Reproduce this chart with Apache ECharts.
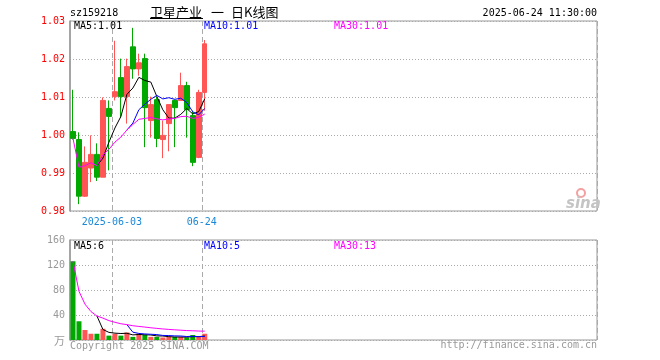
<!DOCTYPE html>
<html>
<head>
<meta charset="utf-8">
<script src="https://cdn.jsdelivr.net/npm/echarts@6/dist/echarts.min.js"></script>
<style>
html,body{margin:0;padding:0;background:#fff;}
#c{width:660px;height:360px;}
</style>
</head>
<body>
<div id="c"></div>
<script>
// ---- data ----
const dates = ['2025-05-22','2025-05-23','2025-05-26','2025-05-27','2025-05-28','2025-05-29','2025-05-30',
  '2025-06-03','2025-06-04','2025-06-05','2025-06-06','2025-06-09','2025-06-10','2025-06-11','2025-06-12',
  '2025-06-13','2025-06-16','2025-06-17','2025-06-18','2025-06-19','2025-06-20','2025-06-23','2025-06-24'];
const openP  = [1.0009,0.9988,0.9839,0.9913,0.9949,0.9889,1.0070,1.0101,1.0151,1.0101,1.0232,1.0174,1.0201,1.0038,1.0093,0.9988,1.0030,1.0091,1.0091,1.0130,1.0051,0.9941,1.0112];
const closeP = [0.9991,0.9839,0.9928,0.9949,0.9889,1.0091,1.0049,1.0114,1.0101,1.0180,1.0174,1.0190,1.0072,1.0080,0.9991,0.9999,1.0080,1.0072,1.0130,1.0067,0.9928,1.0112,1.0240];
const lowP   = [0.9988,0.9818,0.9837,0.9876,0.9879,0.9889,0.9907,1.0091,1.0046,1.0030,1.0148,1.0156,0.9968,0.9993,0.9968,0.9939,0.9957,0.9968,1.0091,0.9993,0.9918,0.9939,1.0064];
const highP  = [1.0119,1.0007,0.9970,0.9999,0.9978,1.0099,1.0091,1.0248,1.0201,1.0201,1.0282,1.0214,1.0214,1.0101,1.0101,1.0038,1.0080,1.0093,1.0164,1.0140,1.0064,1.0119,1.0250];
const volume = [126,30,16,10,10,18,7,10,7,12,5,10,8,5,5,4,5,5,5,4,8,5,10];
const tickIdx    = [7, 22];
const tickLabels = ['2025-06-03', '06-24'];
const priceTicks = [0.98, 1.03, 0.01];
const volTicks   = [0, 160, 40];
const SLOTS = 88;

// ---- derived ----
const cats = dates.slice();
for (let i = dates.length; i < SLOTS; i++) cats.push('_' + i);
function ma(arr, n, partial) {
  const out = [];
  for (let i = 0; i < arr.length; i++) {
    if (i < n - 1 && !partial) { out.push(null); continue; }
    const s = Math.max(0, i - n + 1);
    let sum = 0;
    for (let j = s; j <= i; j++) sum += arr[j];
    out.push(sum / (i - s + 1));
  }
  return out;
}
const RED = '#ff5555', GREEN = '#00a800';
const kData = dates.map((d, i) => [openP[i], closeP[i], lowP[i], highP[i]]);
const vData = volume.map((v, i) => ({ value: v, itemStyle: { color: closeP[i] >= openP[i] ? RED : GREEN } }));
const MONO = 'DejaVu Sans Mono';

const xCommon = {
  type: 'category', data: cats, boundaryGap: true,
  axisLine: { show: false }, axisTick: { show: false },
  splitLine: { show: true, interval: (idx) => tickIdx.includes(idx),
    lineStyle: { color: '#aaa', type: [5, 3], width: 1 } }
};

const chart = echarts.init(document.getElementById('c'), null, { renderer: 'canvas' });
function txt(x, y, s, color, align, size, family) {
  return { type: 'text', x: x, y: y, z: 100,
    style: { text: s, fill: color, font: (size || 10) + 'px "' + (family || MONO) + '"',
      textAlign: align || 'left', textVerticalAlign: 'middle' } };
}
chart.setOption({
  animation: false,
  backgroundColor: '#fff',
  grid: [
    { left: 70, top: 21, width: 527, height: 190, show: true, borderColor: '#999', borderWidth: 1 },
    { left: 70, top: 240, width: 527, height: 100, show: true, borderColor: '#999', borderWidth: 1 }
  ],
  xAxis: [
    Object.assign({}, xCommon, { gridIndex: 0,
      axisLabel: { show: true, interval: (idx) => tickIdx.includes(idx),
        formatter: (v, idx) => { const k = tickIdx.indexOf(idx); return k >= 0 ? tickLabels[k] : ''; },
        color: '#1a88d8', fontFamily: MONO, fontSize: 10, margin: 6, padding: [0, 6, 0, 0] } }),
    Object.assign({}, xCommon, { gridIndex: 1, axisLabel: { show: false } })
  ],
  yAxis: [
    { gridIndex: 0, type: 'value', min: priceTicks[0], max: priceTicks[1], interval: priceTicks[2],
      axisLine: { show: true, lineStyle: { color: '#999', width: 1.5 } }, axisTick: { show: false },
      axisLabel: { color: '#ff0000', fontFamily: MONO, fontSize: 10, margin: 5, formatter: v => v.toFixed(2) },
      splitLine: { show: true, lineStyle: { color: '#aaa', type: [1, 2] } } },
    { gridIndex: 1, type: 'value', min: volTicks[0], max: volTicks[1], interval: volTicks[2],
      axisLine: { show: true, lineStyle: { color: '#999', width: 1.5 } }, axisTick: { show: false },
      axisLabel: { color: '#999', fontFamily: MONO, fontSize: 10, margin: 5, formatter: v => v === 0 ? '' : String(v) },
      splitLine: { show: true, lineStyle: { color: '#aaa', type: [1, 2] } } }
  ],
  series: [
    { type: 'candlestick', xAxisIndex: 0, yAxisIndex: 0, data: kData, barWidth: 5,
      itemStyle: { color: RED, color0: GREEN, borderColor: RED, borderColor0: GREEN, borderWidth: 1 } },
    { type: 'line', xAxisIndex: 0, yAxisIndex: 0, data: ma(closeP, 5, false), symbol: 'none', lineStyle: { color: '#000', width: 1 } },
    { type: 'line', xAxisIndex: 0, yAxisIndex: 0, data: ma(closeP, 10, false), symbol: 'none', lineStyle: { color: '#0000ff', width: 1 } },
    { type: 'line', xAxisIndex: 0, yAxisIndex: 0, data: ma(closeP, 30, true), symbol: 'none', lineStyle: { color: '#ff00ff', width: 1 } },
    { type: 'bar', xAxisIndex: 1, yAxisIndex: 1, data: vData, barWidth: 5 },
    { type: 'line', xAxisIndex: 1, yAxisIndex: 1, data: ma(volume, 5, false), symbol: 'none', lineStyle: { color: '#000', width: 1 } },
    { type: 'line', xAxisIndex: 1, yAxisIndex: 1, data: ma(volume, 10, false), symbol: 'none', lineStyle: { color: '#0000ff', width: 1 } },
    { type: 'line', xAxisIndex: 1, yAxisIndex: 1, data: ma(volume, 30, true), symbol: 'none', lineStyle: { color: '#ff00ff', width: 1 } }
  ],
  graphic: [
    txt(70, 13, 'sz159218', '#000'),
    txt(150, 12.5, '卫星产业', '#000', 'left', 13, 'Noto Sans CJK SC'),
    txt(211, 12.5, '一', '#000', 'left', 13, 'Noto Sans CJK SC'),
    txt(231, 12.5, '日K线图', '#000', 'left', 13, 'Noto Sans CJK SC'),
    { type: 'line', z: 100, shape: { x1: 150, y1: 18.5, x2: 203, y2: 18.5 }, style: { stroke: '#000', lineWidth: 1 } },
    txt(597, 13, '2025-06-24 11:30:00', '#000', 'right'),
    txt(74, 26.5, 'MA5:1.01', '#000'),
    txt(204, 26.5, 'MA10:1.01', '#0000ff'),
    txt(334, 26.5, 'MA30:1.01', '#ff00ff'),
    txt(74, 246, 'MA5:6', '#000'),
    txt(204, 246, 'MA10:5', '#0000ff'),
    txt(334, 246, 'MA30:13', '#ff00ff'),
    txt(65, 341, '万', '#999', 'right', 11, 'Noto Sans CJK SC'),
    txt(70, 346, 'Copyright 2025 SINA.COM', '#999'),
    txt(597, 345.5, 'http://finance.sina.com.cn', '#999', 'right'),
    { type: 'circle', z: 90, shape: { cx: 581, cy: 193, r: 4 }, style: { fill: 'none', stroke: '#f4a0a0', lineWidth: 2 } },
    { type: 'text', z: 90, x: 566, y: 204, style: { text: 'sina', fill: '#c4c4c4', font: 'italic bold 15px "DejaVu Sans"', textVerticalAlign: 'middle' } }
  ]
});
</script>
</body>
</html>
